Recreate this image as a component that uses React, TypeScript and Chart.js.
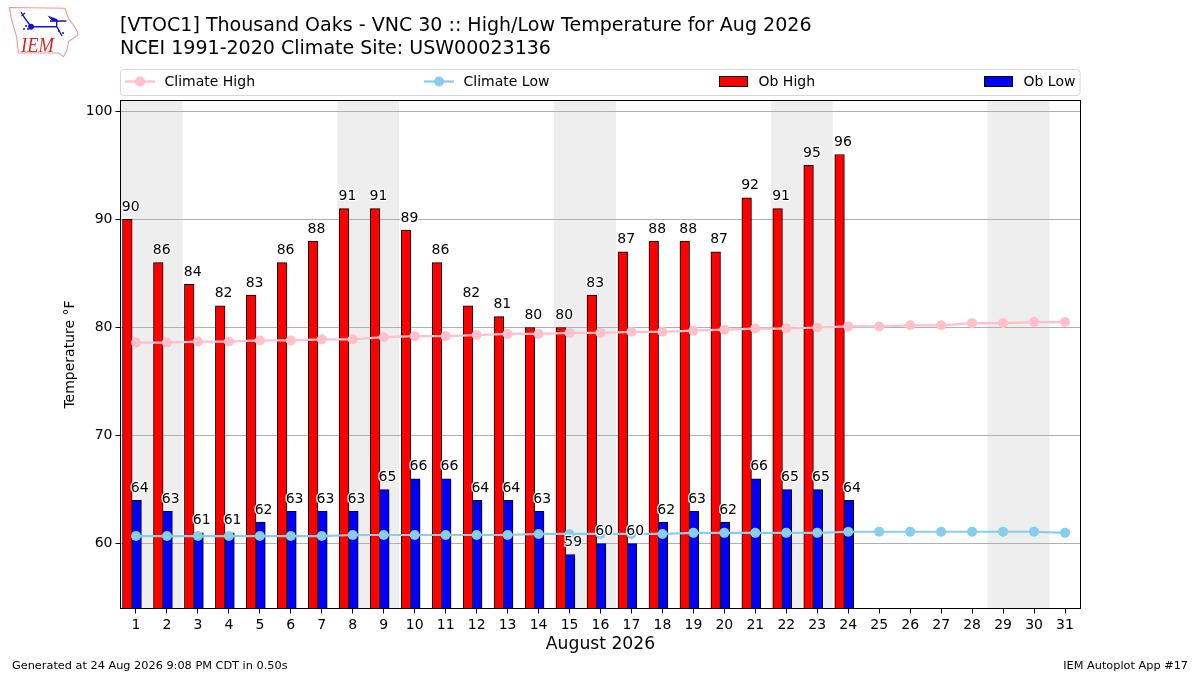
import React, { useEffect, useRef } from "react";
import { Chart, registerables } from "chart.js";

Chart.register(...registerables);

const days = Array.from({ length: 31 }, (_, i) => i + 1);
const obHigh = [90, 86, 84, 82, 83, 86, 88, 91, 91, 89, 86, 82, 81, 80, 80, 83, 87, 88, 88, 87, 92, 91, 95, 96];
const obLow = [64, 63, 61, 61, 62, 63, 63, 63, 65, 66, 66, 64, 64, 63, 59, 60, 60, 62, 63, 62, 66, 65, 65, 64];
const climateHigh = [78.6, 78.6, 78.7, 78.7, 78.8, 78.8, 78.9, 78.9, 79.1, 79.2, 79.2, 79.3, 79.4, 79.4, 79.5, 79.5, 79.6, 79.6, 79.7, 79.8, 79.9, 79.9, 80.0, 80.1, 80.1, 80.2, 80.2, 80.4, 80.4, 80.5, 80.5];
const climateLow = [60.7, 60.7, 60.7, 60.7, 60.7, 60.7, 60.7, 60.8, 60.8, 60.8, 60.8, 60.8, 60.8, 60.9, 60.9, 60.9, 60.9, 60.9, 61.0, 61.0, 61.0, 61.0, 61.0, 61.1, 61.1, 61.1, 61.1, 61.1, 61.1, 61.1, 61.0];
const weekendStarts = [1, 8, 15, 22, 29];
const titleLines = [
  "[VTOC1] Thousand Oaks - VNC 30 :: High/Low Temperature for Aug 2026",
  "NCEI 1991-2020 Climate Site: USW00023136",
];
const footerLeft = "Generated at 24 Aug 2026 9:08 PM CDT in 0.50s";
const footerRight = "IEM Autoplot App #17";

const FONT = '"DejaVu Sans"';

const decorPlugin = {
  id: "decor",
  beforeDraw(chart: any) {
    const { ctx, chartArea: a, scales } = chart;
    ctx.save();
    ctx.fillStyle = "#eeeeee";
    ctx.beginPath();
    ctx.rect(a.left, a.top, a.right - a.left, a.bottom - a.top);
    ctx.clip();
    for (const d of weekendStarts) {
      const x0 = scales.x.getPixelForValue(d - 0.5);
      const x1 = scales.x.getPixelForValue(d + 1.5);
      ctx.fillRect(x0, a.top, x1 - x0, a.bottom - a.top);
    }
    ctx.restore();
  },
  afterDraw(chart: any) {
    const { ctx, chartArea: a, scales } = chart;
    ctx.save();
    // frame
    ctx.strokeStyle = "#000";
    ctx.lineWidth = 1;
    ctx.lineJoin = "miter";
    ctx.strokeRect(a.left, a.top, a.right - a.left, a.bottom - a.top);

    // value labels
    ctx.font = `14px ${FONT}`;
    ctx.textAlign = "center";
    ctx.textBaseline = "alphabetic";
    ctx.lineJoin = "round";
    const label = (vals: number[], off: number) => {
      vals.forEach((v, i) => {
        const x = scales.x.getPixelForValue(days[i] + off);
        const y = scales.y.getPixelForValue(v) - 8.5;
        ctx.strokeStyle = "#fff";
        ctx.lineWidth = 2.5;
        ctx.strokeText(String(v), x, y);
        ctx.fillStyle = "#000";
        ctx.fillText(String(v), x, y);
      });
    };
    label(obHigh, -0.17);
    label(obLow, 0.12);
    ctx.lineJoin = "miter";

    // title
    ctx.fillStyle = "#000";
    ctx.textAlign = "left";
    ctx.font = `19.05px ${FONT}`;
    ctx.fillText(titleLines[0], 120, 31);
    ctx.fillText(titleLines[1], 120, 54);

    // footer
    ctx.font = `11.3px ${FONT}`;
    ctx.fillText(footerLeft, 12, 669);
    ctx.textAlign = "right";
    ctx.fillText(footerRight, 1188, 669);

    // legend
    ctx.textAlign = "left";
    ctx.strokeStyle = "#d6d6d6";
    ctx.lineWidth = 1;
    ctx.fillStyle = "#fff";
    ctx.beginPath();
    ctx.roundRect(120.5, 69.5, 959.5, 26, 3);
    ctx.fill();
    ctx.stroke();
    const ds = chart.data.datasets;
    const entries: [number, any][] = [
      [125, ds[0]],
      [424, ds[1]],
      [719, ds[2]],
      [984, ds[3]],
    ];
    ctx.font = `14px ${FONT}`;
    for (const [x, d] of entries) {
      if (d.type === "line") {
        ctx.strokeStyle = d.borderColor;
        ctx.lineWidth = 2.2;
        ctx.beginPath();
        ctx.moveTo(x, 81.5);
        ctx.lineTo(x + 30, 81.5);
        ctx.stroke();
        ctx.fillStyle = d.borderColor;
        ctx.beginPath();
        ctx.arc(x + 15, 81.5, 5, 0, Math.PI * 2);
        ctx.fill();
      } else {
        ctx.fillStyle = d.backgroundColor;
        ctx.strokeStyle = "#000";
        ctx.lineWidth = 1;
        ctx.fillRect(x + 0.5, 76.5, 28, 10);
        ctx.strokeRect(x + 0.5, 76.5, 28, 10);
      }
      ctx.fillStyle = "#000";
      ctx.fillText(d.label, x + 39.5, 86);
    }
    ctx.restore();
  },
};

function Logo() {
  const blue = "#1414c8";
  return (
    <svg width={90} height={60} viewBox="0 0 90 60" style={{ position: "absolute", left: 0, top: 0 }}>
      <path
        d="M9.3 7.5 L65 8.3 L68.3 18 L74 26 L77.5 32 L78 35 L68.5 41.5 L67 50 L63.5 56.7 L58.3 53 L18.3 53 L16.7 37 L11.7 20 Z"
        fill="#fff"
        stroke="#ea9a9a"
        strokeWidth={1.1}
      />
      <path d="M21 12 L24 17 M24 17 L31 26.7 M21.5 16 L25 13 M31 26.7 H57 M50 21 H66.5 M56.7 21 V27 M57 27 L62 36" stroke={blue} strokeWidth={1.4} fill="none" />
      <path d="M47.5 15.5 L57 19 L58 21.5 L52 21 Z" fill={blue} />
      <circle cx={31} cy={26.7} r={3} fill={blue} />
      <circle cx={24} cy={29} r={1} fill={blue} />
      <circle cx={26} cy={26} r={1} fill={blue} />
      <circle cx={28} cy={29} r={1} fill={blue} />
      <circle cx={59} cy={31} r={1} fill={blue} />
      <circle cx={63} cy={33} r={1} fill={blue} />
      <text x={21} y={51.5} fontFamily='"Liberation Serif"' fontStyle="italic" fontSize={22} textLength={33} lengthAdjust="spacingAndGlyphs" fill="#d62828">IEM</text>
    </svg>
  );
}

export default function App() {
  const ref = useRef<HTMLCanvasElement>(null);
  useEffect(() => {
    document.body.style.margin = "0";
    const chart = new Chart(ref.current!, {
      type: "bar",
      data: {
        datasets: [
          {
            type: "line",
            label: "Climate High",
            data: climateHigh.map((y, i) => ({ x: days[i], y })),
            borderColor: "#ffc0cb",
            backgroundColor: "#ffc0cb",
            borderWidth: 2.2,
            pointRadius: 5,
            pointBorderWidth: 0,
            order: 1,
          },
          {
            type: "line",
            label: "Climate Low",
            data: climateLow.map((y, i) => ({ x: days[i], y })),
            borderColor: "#87ceeb",
            backgroundColor: "#87ceeb",
            borderWidth: 2.2,
            pointRadius: 5,
            pointBorderWidth: 0,
            order: 1,
          },
          {
            type: "bar",
            label: "Ob High",
            data: obHigh.map((y, i) => ({ x: days[i] - 0.28, y })),
            backgroundColor: "#ff0000",
            borderColor: "#000",
            borderWidth: 1,
            barThickness: 9.6,
            grouped: false,
            order: 2,
          },
          {
            type: "bar",
            label: "Ob Low",
            data: obLow.map((y, i) => ({ x: days[i] + 0.02, y })),
            backgroundColor: "#0000ff",
            borderColor: "#000",
            borderWidth: 1,
            barThickness: 9.6,
            grouped: false,
            order: 2,
          },
        ],
      } as any,
      options: {
        responsive: false,
        animation: false,
        layout: { padding: { left: 58, top: 100.5, right: 119.5, bottom: 16 } },
        plugins: { legend: { display: false }, title: { display: false }, tooltip: { enabled: false } },
        scales: {
          x: {
            type: "linear",
            min: 0.5,
            max: 31.5,
            offset: false,
            afterFit: (s: any) => {
              s.height = 50.5;
            },
            afterBuildTicks: (s: any) => {
              s.ticks = days.map((value) => ({ value }));
            },
            grid: { offset: false, drawOnChartArea: false, color: "#000", tickLength: 5, tickColor: "#000" },
            border: { color: "#000" },
            ticks: {
              autoSkip: false,
              maxRotation: 0,
              color: "#000",
              font: { family: FONT, size: 14 },
              callback: (v: any) => String(v),
            },
            title: { display: true, text: "August 2026", color: "#000", font: { family: FONT, size: 17.2 } },
          },
          y: {
            min: 54,
            max: 101,
            afterFit: (s: any) => {
              s.width = 62.5;
            },
            grid: { color: "#b0b0b0", tickLength: 5, tickColor: "#000", lineWidth: 1 },
            border: { color: "#000" },
            ticks: {
              stepSize: 10,
              includeBounds: false,
              color: "#000",
              font: { family: FONT, size: 14 },
            },
            title: { display: true, text: "Temperature °F", color: "#000", font: { family: FONT, size: 14 } },
          },
        },
      } as any,
      plugins: [decorPlugin],
    });
    return () => chart.destroy();
  }, []);
  return (
    <div style={{ position: "relative", width: 1200, height: 675, background: "#fff" }}>
      <canvas ref={ref} width={1200} height={675} style={{ display: "block" }} />
      <Logo />
    </div>
  );
}
